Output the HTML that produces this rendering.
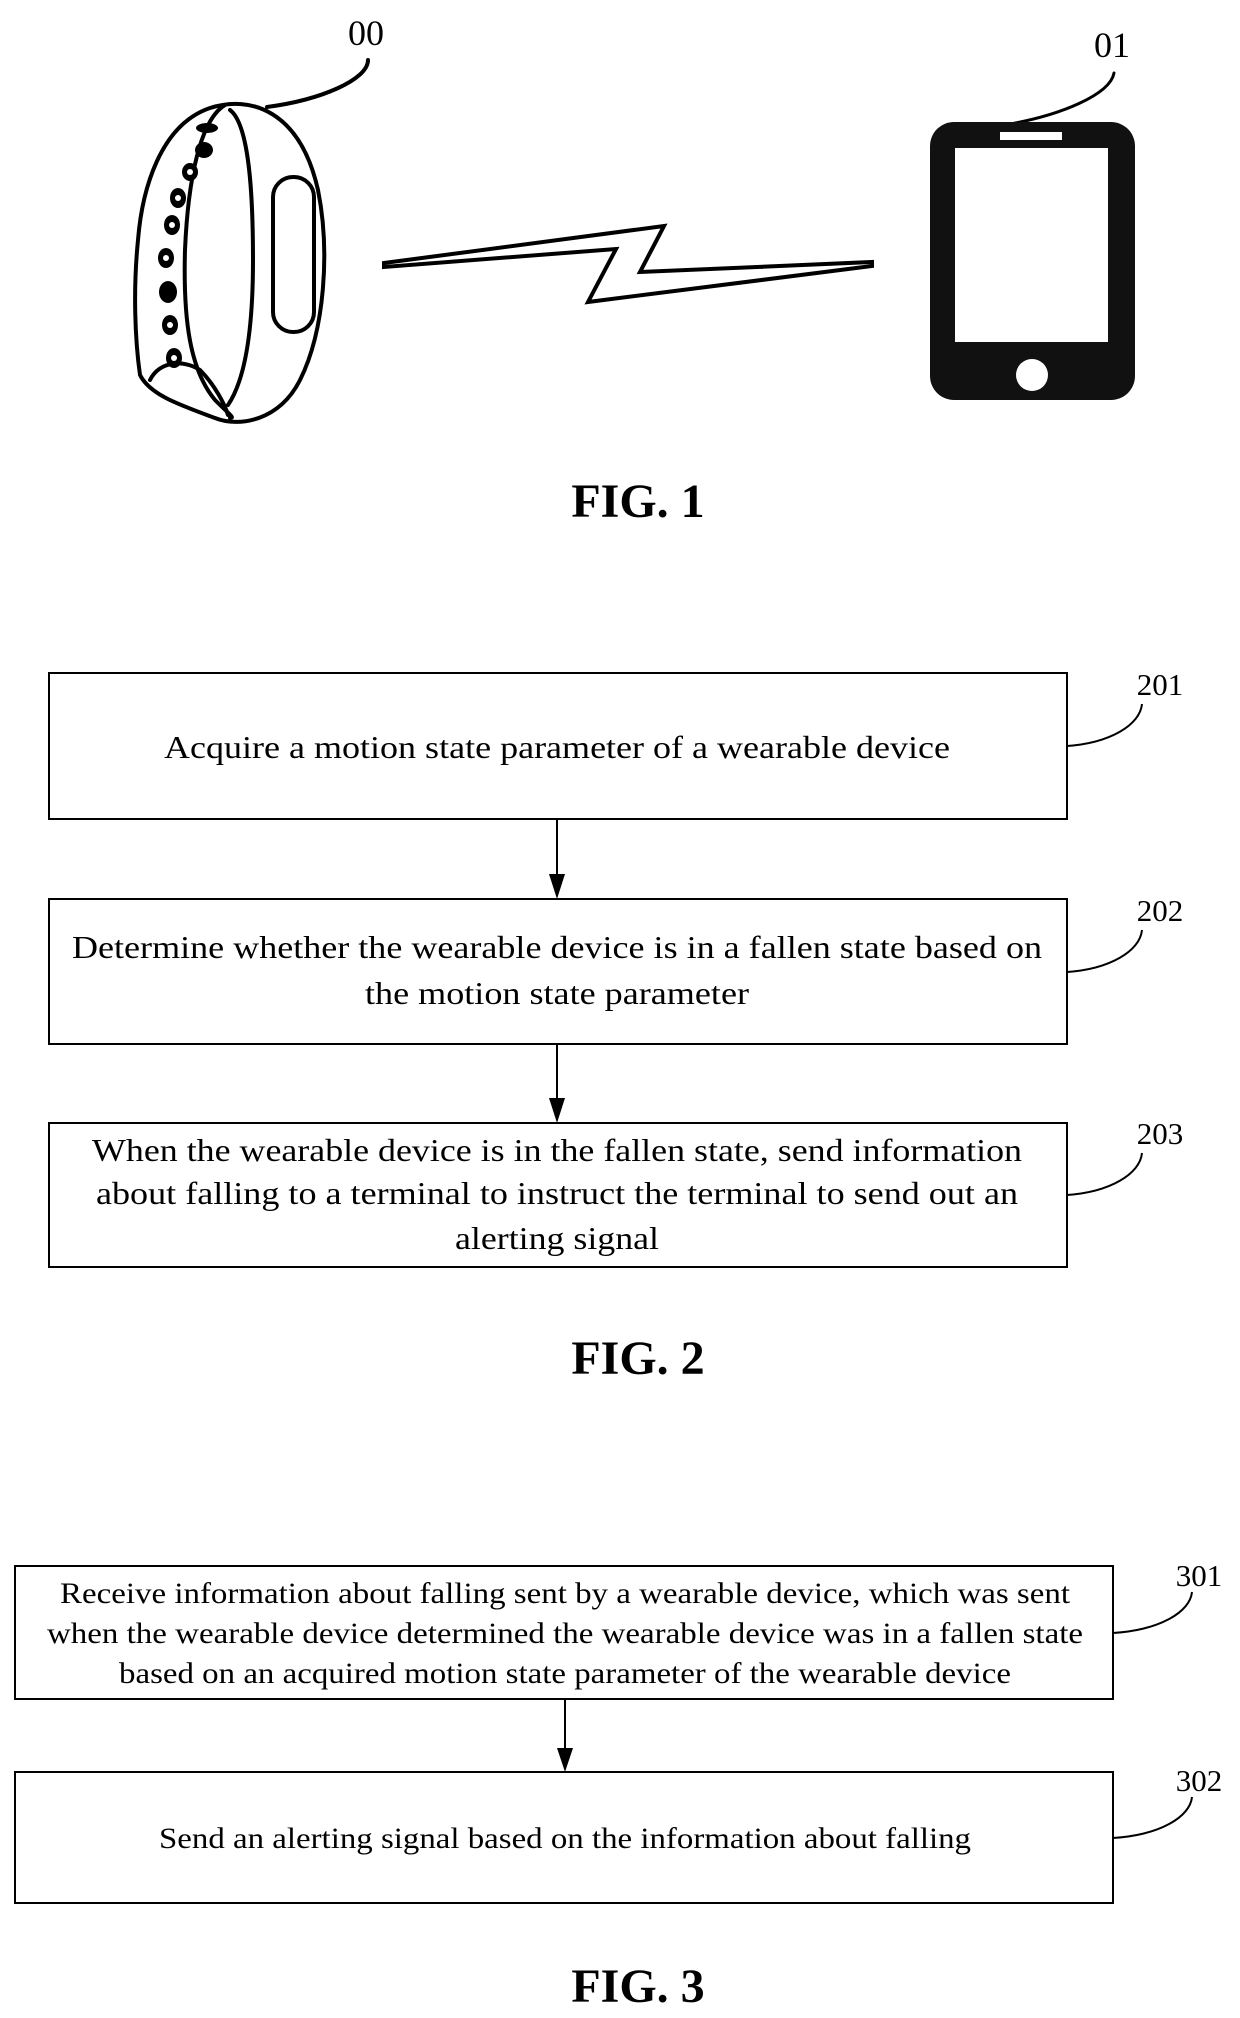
<!DOCTYPE html>
<html><head><meta charset="utf-8"><style>
html,body{margin:0;padding:0;background:#fff;}
svg{display:block;}
text{font-family:"Liberation Serif",serif;fill:#000;}
</style></head><body>
<svg width="1240" height="2018" viewBox="0 0 1240 2018" xmlns="http://www.w3.org/2000/svg">
<!-- FIG 1 -->
<g fill="none" stroke="#000" stroke-width="4" stroke-linecap="round">
  <path d="M210,108 C250,95 300,110 318,190 C330,250 325,330 300,380 C280,420 240,428 215,418 C180,405 150,395 140,375 C135,340 133,290 138,240 C142,190 160,125 210,108 Z"/>
  <path d="M225,105 C200,120 188,180 185,250 C183,320 190,370 215,400 C230,415 235,418 230,418"/>
  <path d="M230,110 C250,125 253,200 253,260 C253,330 245,380 228,405"/>
  <path d="M150,380 C160,360 185,360 200,370 C215,385 225,405 228,415"/>
  <rect x="273" y="177" width="41" height="155" rx="20"/>
  <path d="M267,107 C320,100 368,80 368,60"/>
  <path d="M1010,124 C1060,115 1110,95 1114,73" stroke-width="3"/>
</g>
<g fill="#000">
  <ellipse cx="207" cy="128" rx="11" ry="5"/>
  <ellipse cx="204" cy="150" rx="9" ry="8"/>
  <ellipse cx="190" cy="172" rx="8" ry="9"/>
  <ellipse cx="178" cy="198" rx="8" ry="10"/>
  <ellipse cx="172" cy="225" rx="8" ry="10"/>
  <ellipse cx="166" cy="258" rx="8" ry="10"/>
  <ellipse cx="168" cy="292" rx="9" ry="11"/>
  <ellipse cx="170" cy="325" rx="8" ry="10"/>
  <ellipse cx="174" cy="358" rx="8" ry="10"/>
</g>
<g fill="#fff">
  <circle cx="190" cy="172" r="3"/><circle cx="178" cy="198" r="3"/><circle cx="172" cy="225" r="3"/>
  <circle cx="166" cy="258" r="3"/><circle cx="170" cy="325" r="3"/><circle cx="174" cy="358" r="3"/>
</g>
<text x="366" y="45" font-size="36" text-anchor="middle">00</text>
<text x="1112" y="57" font-size="36" text-anchor="middle">01</text>
<!-- lightning -->
<polygon points="384,263 664,226 640,272 872,262 872,266 588,302 616,249 384,267" fill="#fff" stroke="#000" stroke-width="4" stroke-linejoin="miter"/>
<!-- phone -->
<rect x="930" y="122" width="205" height="278" rx="24" fill="#111"/>
<rect x="955" y="148" width="153" height="194" fill="#fff"/>
<rect x="1000" y="132" width="62" height="8" fill="#fff"/>
<circle cx="1032" cy="375" r="16" fill="#fff"/>
<text x="638" y="517" font-size="48" font-weight="bold" text-anchor="middle">FIG. 1</text>

<!-- FIG 2 / FIG 3 boxes -->
<g fill="none" stroke="#000" stroke-width="2">
  <rect x="49" y="673" width="1018" height="146"/>
  <rect x="49" y="899" width="1018" height="145"/>
  <rect x="49" y="1123" width="1018" height="144"/>
  <line x1="557" y1="819" x2="557" y2="876"/>
  <line x1="557" y1="1044" x2="557" y2="1100"/>
  <path d="M1067,746 C1110,743 1140,725 1142,704"/>
  <path d="M1067,972 C1110,969 1140,951 1142,930"/>
  <path d="M1067,1195 C1110,1192 1140,1174 1142,1153"/>
  <rect x="15" y="1566" width="1098" height="133"/>
  <rect x="15" y="1772" width="1098" height="131"/>
  <line x1="565" y1="1699" x2="565" y2="1750"/>
  <path d="M1113,1633 C1160,1630 1190,1612 1192,1592"/>
  <path d="M1113,1838 C1160,1835 1190,1817 1192,1797"/>
</g>
<g fill="#000">
  <polygon points="549,874 565,874 557,899"/>
  <polygon points="549,1098 565,1098 557,1123"/>
  <polygon points="557,1748 573,1748 565,1772"/>
</g>
<g font-size="31" text-anchor="middle">
  <text x="1160" y="695">201</text>
  <text x="1160" y="921">202</text>
  <text x="1160" y="1144">203</text>
  <text x="1199" y="1586">301</text>
  <text x="1199" y="1791">302</text>
</g>
<g font-size="32" text-anchor="middle">
  <text x="557" y="758" textLength="786" lengthAdjust="spacingAndGlyphs">Acquire a motion state parameter of a wearable device</text>
  <text x="557" y="958" textLength="970" lengthAdjust="spacingAndGlyphs">Determine whether the wearable device is in a fallen state based on</text>
  <text x="557" y="1004" textLength="384" lengthAdjust="spacingAndGlyphs">the motion state parameter</text>
  <text x="557" y="1161" textLength="930" lengthAdjust="spacingAndGlyphs">When the wearable device is in the fallen state, send information</text>
  <text x="557" y="1204" textLength="922" lengthAdjust="spacingAndGlyphs">about falling to a terminal to instruct the terminal to send out an</text>
  <text x="557" y="1249" textLength="204" lengthAdjust="spacingAndGlyphs">alerting signal</text>
</g>
<text x="638" y="1374" font-size="48" font-weight="bold" text-anchor="middle">FIG. 2</text>

<!-- FIG 3 text -->
<g font-size="30" text-anchor="middle">
  <text x="565" y="1603" textLength="1010" lengthAdjust="spacingAndGlyphs">Receive information about falling sent by a wearable device, which was sent</text>
  <text x="565" y="1643" textLength="1036" lengthAdjust="spacingAndGlyphs">when the wearable device determined the wearable device was in a fallen state</text>
  <text x="565" y="1683" textLength="892" lengthAdjust="spacingAndGlyphs">based on an acquired motion state parameter of the wearable device</text>
  <text x="565" y="1848" textLength="812" lengthAdjust="spacingAndGlyphs">Send an alerting signal based on the information about falling</text>
</g>
<text x="638" y="2002" font-size="48" font-weight="bold" text-anchor="middle">FIG. 3</text>
</svg>
</body></html>
